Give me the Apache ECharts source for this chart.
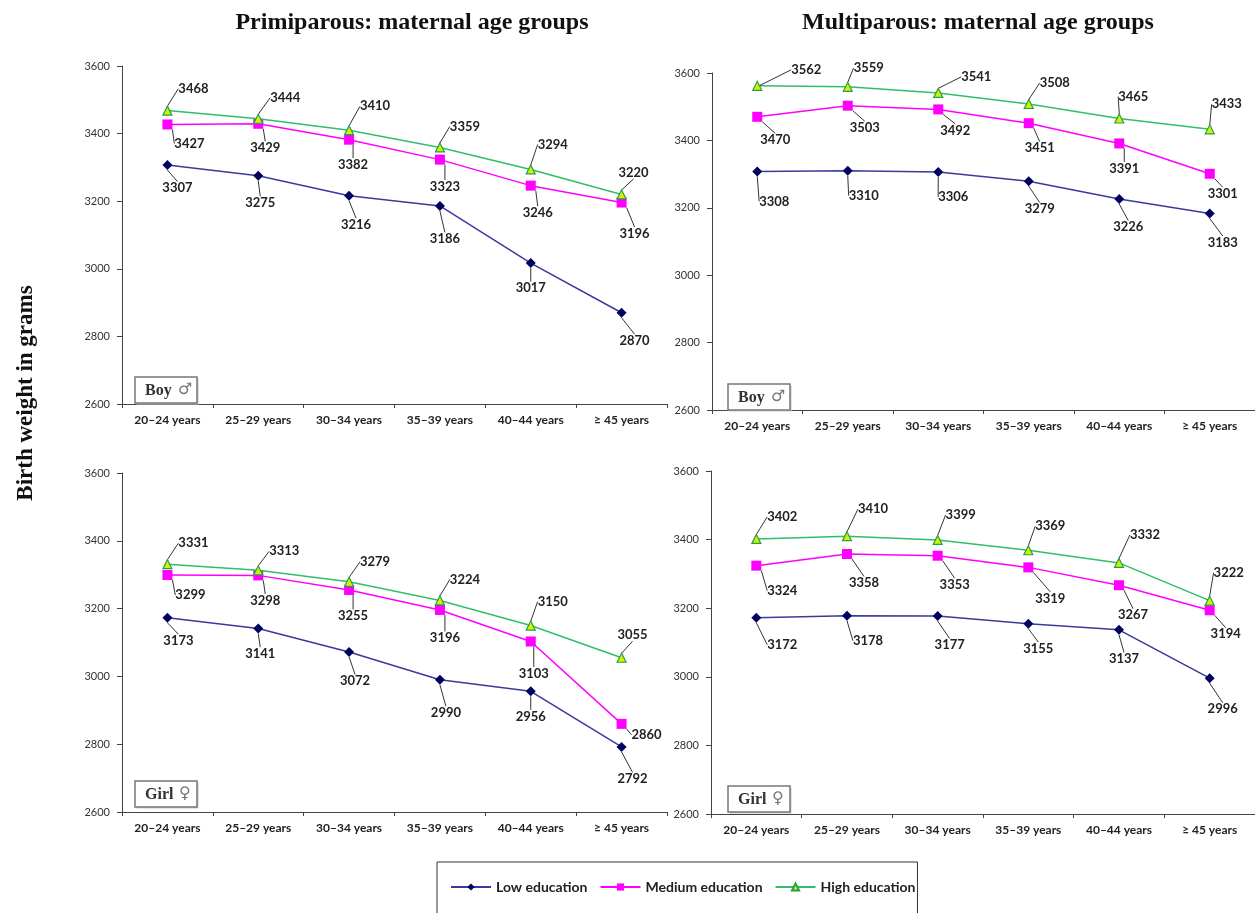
<!DOCTYPE html>
<html>
<head>
<meta charset="utf-8">
<script src="https://cdn.jsdelivr.net/npm/echarts@6/dist/echarts.min.js"></script>
<style>
html,body{margin:0;padding:0;background:#fff;}
#chart{width:1255px;height:913px;}
</style>
</head>
<body>
<div id="chart"></div>
<script>
// ---- data ----
var categories = ['20\u201324 years', '25\u201329 years', '30\u201334 years', '35\u201339 years', '40\u201344 years', '\u2265 45 years'];
var seriesNames = ['Low education', 'Medium education', 'High education'];
var yTicks = [2600, 2800, 3000, 3200, 3400, 3600];

var primiBoyLow  = [3307, 3275, 3216, 3186, 3017, 2870];
var primiBoyMed  = [3427, 3429, 3382, 3323, 3246, 3196];
var primiBoyHigh = [3468, 3444, 3410, 3359, 3294, 3220];

var multiBoyLow  = [3308, 3310, 3306, 3279, 3226, 3183];
var multiBoyMed  = [3470, 3503, 3492, 3451, 3391, 3301];
var multiBoyHigh = [3562, 3559, 3541, 3508, 3465, 3433];

var primiGirlLow  = [3173, 3141, 3072, 2990, 2956, 2792];
var primiGirlMed  = [3299, 3298, 3255, 3196, 3103, 2860];
var primiGirlHigh = [3331, 3313, 3279, 3224, 3150, 3055];

var multiGirlLow  = [3172, 3178, 3177, 3155, 3137, 2996];
var multiGirlMed  = [3324, 3358, 3353, 3319, 3267, 3194];
var multiGirlHigh = [3402, 3410, 3399, 3369, 3332, 3222];

var panelData = [
  [primiBoyLow, primiBoyMed, primiBoyHigh],
  [multiBoyLow, multiBoyMed, multiBoyHigh],
  [primiGirlLow, primiGirlMed, primiGirlHigh],
  [multiGirlLow, multiGirlMed, multiGirlHigh]
];

// ---- layout (label offsets from each point, in px) ----
var labelOffsets = [
  [ [[10,23],[2,27],[7,29],[5,33],[0,25],[13,28]],
    [[22,19],[7,24],[4,25],[5,27],[7,27],[13,31]],
    [[26,-22],[27,-21],[26,-24],[25,-21],[22,-25],[12,-22]] ],
  [ [[17,30],[16,25],[15,25],[11,28],[9,28],[13,29]],
    [[18,23],[17,22],[17,21],[11,25],[5,25],[13,20]],
    [[49,-16],[21,-19],[38,-16],[26,-21],[14,-22],[17,-25]] ],
  [ [[11,23],[2,25],[6,29],[6,33],[0,25],[11,32]],
    [[23,20],[7,25],[4,26],[5,28],[3,32],[25,11]],
    [[26,-21],[26,-19],[26,-20],[25,-21],[22,-24],[11,-23]] ],
  [ [[26,27],[21,25],[12,29],[10,25],[5,29],[13,31]],
    [[26,25],[17,29],[17,29],[22,31],[14,30],[16,24]],
    [[26,-22],[26,-27],[23,-25],[22,-24],[26,-28],[19,-28]] ]
];

var grids = [
  {left: 122, top: 66,  width: 545, height: 338},
  {left: 712, top: 73,  width: 545, height: 337},
  {left: 122, top: 473, width: 545, height: 339},
  {left: 711, top: 471, width: 545, height: 343}
];

var boxes = [
  {x: 135, y: 377, word: 'Boy', sym: '\u2642', symDx: 43},
  {x: 728, y: 384, word: 'Boy', sym: '\u2642', symDx: 43},
  {x: 135, y: 781, word: 'Girl', sym: '\u2640', symDx: 44},
  {x: 728, y: 786, word: 'Girl', sym: '\u2640', symDx: 44}
];

var seriesStyles = [
  {line: '#3a3a9c', symbol: 'diamond', size: 10, fill: '#00005e', border: '#00005e'},
  {line: '#ff00ff', symbol: 'rect', size: 10, fill: '#ff00ff', border: '#ff00ff'},
  {line: '#2fbf6a', symbol: 'triangle', size: 9, fill: '#d8f000', border: '#22a050'}
];

var axisColor = '#444';
var xAxes = [], yAxes = [], series = [];
for (var p = 0; p < 4; p++) {
  xAxes.push({
    type: 'category', gridIndex: p, data: categories, boundaryGap: true,
    axisLine: {lineStyle: {color: axisColor, width: 1}},
    axisTick: {show: true, length: 4, lineStyle: {color: axisColor}},
    axisLabel: {color: '#222', fontFamily: 'Lato', fontWeight: 'bold', fontSize: 12, margin: 10, interval: 0}
  });
  yAxes.push({
    type: 'value', gridIndex: p, min: yTicks[0], max: yTicks[yTicks.length - 1], interval: 200,
    axisLine: {show: true, lineStyle: {color: axisColor, width: 1}},
    axisTick: {show: true, length: 5, lineStyle: {color: axisColor}},
    splitLine: {show: false},
    axisLabel: {color: '#333', fontFamily: 'Lato', fontSize: 11, margin: 12, formatter: function (v) { return String(v); }}
  });
  for (var s = 0; s < 3; s++) {
    (function (p, s) {
      var st = seriesStyles[s];
      series.push({
        type: 'line', name: seriesNames[s], xAxisIndex: p, yAxisIndex: p,
        data: panelData[p][s],
        symbol: st.symbol, symbolSize: st.size, showAllSymbol: true,
        lineStyle: {color: st.line, width: 1.5},
        itemStyle: {color: st.fill, borderColor: st.border, borderWidth: s === 2 ? 1.2 : 0},
        label: {show: true, color: '#222', fontFamily: 'Lato', fontWeight: 'bold', fontSize: 13},
        labelLine: {show: true, lineStyle: {color: '#333', width: 1}},
        labelLayout: function (params) {
          var r = params.rect;
          var off = labelOffsets[p][s][params.dataIndex];
          return {
            x: r.x + r.width / 2 + off[0],
            y: r.y + r.height / 2 + off[1],
            align: 'center', verticalAlign: 'middle'
          };
        },
        emphasis: {disabled: true},
        animation: false,
        z: 3 + s
      });
    })(p, s);
  }
}

var graphics = [
  {type: 'text', x: 412, y: 23, style: {text: 'Primiparous: maternal age groups', font: 'bold 24px "Liberation Serif", "Times New Roman", serif', fill: '#111', textAlign: 'center', textVerticalAlign: 'middle'}},
  {type: 'text', x: 978, y: 23, style: {text: 'Multiparous: maternal age groups', font: 'bold 24px "Liberation Serif", "Times New Roman", serif', fill: '#111', textAlign: 'center', textVerticalAlign: 'middle'}},
  {type: 'text', x: 26, y: 393, rotation: Math.PI / 2, style: {text: 'Birth weight in grams', font: 'bold 23px "Liberation Serif", "Times New Roman", serif', fill: '#111', textAlign: 'center', textVerticalAlign: 'middle'}}
];
boxes.forEach(function (b) {
  graphics.push({type: 'rect', shape: {x: b.x + 1.5, y: b.y + 1.5, width: 62, height: 26}, style: {fill: '#ccc', stroke: null}, z: 9});
  graphics.push({type: 'rect', shape: {x: b.x, y: b.y, width: 62, height: 26}, style: {fill: '#fff', stroke: '#777', lineWidth: 1.5}, z: 10});
  graphics.push({type: 'text', x: b.x + 10, y: b.y + 14, style: {text: b.word, font: 'bold 16px "Liberation Serif", "DejaVu Serif", serif', fill: '#333', textAlign: 'left', textVerticalAlign: 'middle'}, z: 11});
  graphics.push({type: 'text', x: b.x + b.symDx, y: b.y + 13, style: {text: b.sym, font: '16px "DejaVu Sans", sans-serif', fill: '#777', textAlign: 'left', textVerticalAlign: 'middle'}, z: 11});
});

var chart = echarts.init(document.getElementById('chart'), null, {renderer: 'canvas'});
chart.setOption({
  backgroundColor: '#fff',
  animation: false,
  grid: grids,
  xAxis: xAxes,
  yAxis: yAxes,
  series: series,
  legend: {
    data: seriesNames, left: 437, top: 862, orient: 'horizontal',
    padding: [18, 2, 30, 13], itemGap: 12, itemWidth: 40, itemHeight: 9,
    borderColor: '#333', borderWidth: 1,
    textStyle: {color: '#222', fontFamily: 'Lato', fontWeight: 'bold', fontSize: 14}
  },
  graphic: graphics
});
</script>
</body>
</html>
